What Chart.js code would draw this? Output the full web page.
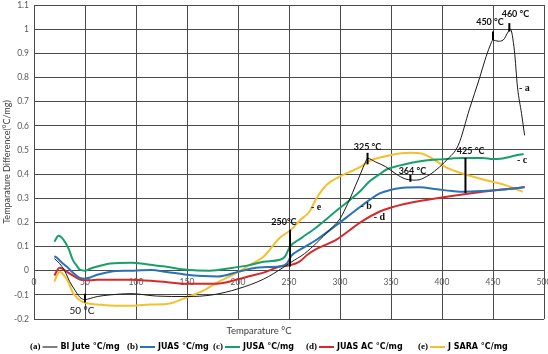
<!DOCTYPE html>
<html>
<head>
<meta charset="utf-8">
<script src="https://cdn.jsdelivr.net/npm/chart.js@4.4.1/dist/chart.umd.min.js"></script>
<style>
  html, body { margin: 0; padding: 0; background: #fff; }
  #wrap { width: 548px; height: 354px; position: relative; }
</style>
</head>
<body>
<div id="wrap"><canvas id="dtaChart" width="548" height="354"></canvas></div>
<script>
// Series names (legend)
const seriesNames = ["Bl Jute °C/mg", "JUAS °C/mg", "JUSA °C/mg", "JUAS AC °C/mg", "J SARA °C/mg"];
const seriesTags = ["(a)", "(b)", "(c)", "(d)", "(e)"];

// (a) Bl Jute
const juteTemp = [20, 25, 30, 35, 40, 45, 50, 55, 62, 75, 95, 120, 150, 175, 200, 225, 245, 252, 265, 277, 290, 300, 305, 310, 315, 320, 325, 327, 335, 345, 355, 364, 375, 385, 395, 405, 416, 427, 437, 442, 447, 450, 455, 460, 465, 467, 471, 474, 478, 481];
const juteDiff = [0.05, 0.03, 0.0, -0.045, -0.08, -0.11, -0.12, -0.115, -0.107, -0.1, -0.095, -0.105, -0.107, -0.1, -0.075, -0.035, 0.015, 0.035, 0.07, 0.115, 0.17, 0.215, 0.255, 0.3, 0.35, 0.4, 0.45, 0.465, 0.45, 0.43, 0.4, 0.38, 0.375, 0.39, 0.42, 0.46, 0.52, 0.67, 0.8, 0.87, 0.93, 0.955, 0.95, 0.955, 0.99, 1.0, 0.91, 0.76, 0.65, 0.56];

// (b) JUAS
const juasTemp = [20, 22, 27, 32, 40, 45, 50, 55, 62, 75, 95, 115, 130, 150, 165, 180, 200, 215, 230, 242, 248, 252, 262, 277, 297, 320, 339, 350, 362, 378, 395, 410, 421, 440, 457, 470, 481];
const juasDiff = [0.06, 0.055, 0.035, 0.017, -0.015, -0.03, -0.033, -0.028, -0.017, -0.004, 0.0, 0.003, -0.005, -0.017, -0.022, -0.024, -0.005, 0.01, 0.015, 0.018, 0.03, 0.06, 0.09, 0.128, 0.19, 0.265, 0.32, 0.335, 0.343, 0.345, 0.337, 0.33, 0.327, 0.33, 0.335, 0.34, 0.345];

// (c) JUSA
const jusaTemp = [20, 24, 29, 34, 38, 42, 45, 50, 55, 62, 75, 95, 114, 130, 150, 172, 195, 210, 225, 241, 246, 251, 262, 277, 297, 320, 329, 339, 346, 358, 369, 382, 395, 410, 421, 440, 450, 457, 465, 472, 480];
const jusaDiff = [0.12, 0.145, 0.128, 0.09, 0.045, 0.02, 0.004, 0.0, 0.008, 0.017, 0.03, 0.033, 0.025, 0.016, 0.004, 0.0, 0.012, 0.022, 0.037, 0.045, 0.058, 0.1, 0.135, 0.18, 0.25, 0.33, 0.37, 0.4, 0.42, 0.435, 0.446, 0.455, 0.46, 0.465, 0.467, 0.467, 0.462, 0.463, 0.47, 0.477, 0.483];

// (d) JUAS AC
const juasAcTemp = [20, 22, 25, 28, 32, 40, 45, 55, 62, 94, 123, 150, 179, 199, 212, 225, 241, 250, 261, 268, 277, 297, 320, 339, 362, 395, 427, 457, 470, 481];
const juasAcDiff = [-0.02, -0.004, 0.012, 0.008, -0.004, -0.025, -0.037, -0.04, -0.037, -0.037, -0.045, -0.054, -0.054, -0.037, -0.022, -0.008, 0.017, 0.022, 0.04, 0.066, 0.09, 0.13, 0.2, 0.245, 0.275, 0.3, 0.32, 0.335, 0.34, 0.347];

// (e) J SARA
const saraTemp = [20, 23, 25, 29, 34, 38, 43, 48, 55, 62, 80, 97, 114, 130, 150, 165, 179, 199, 212, 225, 241, 252, 261, 270, 277, 287, 300, 320, 329, 349, 369, 380, 388, 405, 424, 447, 454, 465, 479];
const saraDiff = [-0.045, -0.015, -0.004, -0.017, -0.05, -0.09, -0.115, -0.13, -0.137, -0.14, -0.145, -0.145, -0.14, -0.138, -0.11, -0.085, -0.05, -0.008, 0.025, 0.058, 0.136, 0.17, 0.21, 0.244, 0.3, 0.356, 0.39, 0.43, 0.455, 0.478, 0.488, 0.485, 0.47, 0.426, 0.397, 0.37, 0.364, 0.35, 0.327];

// Peak markers: temperature, bottom, top, label
const markerTemps = [50, 251, 327, 369, 423, 450, 466];
const markerLow = [-0.132, 0.017, 0.44, 0.368, 0.322, 0.955, 0.99];
const markerHigh = [-0.095, 0.17, 0.488, 0.397, 0.467, 0.99, 1.025];
const markerLabels = ["50 °C", "250°C", "325 °C", "364 °C", "425 °C", "450 °C", "460 °C"];

// Letter tags next to curves
const curveTags = ["- a", "- b", "- c", "- d", "- e"];

// Axis ticks
const xTicks = [0, 50, 100, 150, 200, 250, 300, 350, 400, 450, 500];
const yTicks = [-0.2, -0.1, 0, 0.1, 0.2, 0.3, 0.4, 0.5, 0.6, 0.7, 0.8, 0.9, 1, 1.1];

const colors = ["#1a1a1a", "#2a72b5", "#17a06c", "#d62a2a", "#f2c12e"];
const legendColors = ["#808080", "#2a72b5", "#17a06c", "#d62a2a", "#f2c12e"];
const widths = [1, 2, 2, 2, 2];

function toPoints(xs, ys) {
  return xs.map((x, i) => ({ x: x, y: ys[i] }));
}

const allTemps = [juteTemp, juasTemp, jusaTemp, juasAcTemp, saraTemp];
const allDiffs = [juteDiff, juasDiff, jusaDiff, juasAcDiff, saraDiff];

const datasets = seriesNames.map((name, i) => ({
  label: name,
  data: toPoints(allTemps[i], allDiffs[i]),
  borderColor: colors[i],
  borderWidth: widths[i],
  pointRadius: 0,
  fill: false,
  cubicInterpolationMode: "monotone"
}));

// Annotations: markers, their labels, and curve letters
const annotationPlugin = {
  id: "dtaAnnotations",
  afterDatasetsDraw(chart) {
    const ctx = chart.ctx;
    const xs = chart.scales.x;
    const ys = chart.scales.y;
    ctx.save();
    ctx.strokeStyle = "#000";
    ctx.lineWidth = 2;
    markerTemps.forEach((t, i) => {
      const px = xs.getPixelForValue(t);
      ctx.beginPath();
      ctx.moveTo(px, ys.getPixelForValue(markerLow[i]));
      ctx.lineTo(px, ys.getPixelForValue(markerHigh[i]));
      ctx.stroke();
    });
    // marker labels
    const labelPos = [[47, -0.165], [245, 0.2], [327, 0.513], [371, 0.413], [428, 0.496], [447, 1.03], [472, 1.063]];
    ctx.fillStyle = "#111";
    ctx.textAlign = "center";
    ctx.textBaseline = "middle";
    markerLabels.forEach((lab, i) => {
      ctx.font = i === 0 ? "10px Lato" : "bold 9px Lato";
      ctx.fillText(lab, xs.getPixelForValue(labelPos[i][0]), ys.getPixelForValue(labelPos[i][1]));
    });
    // curve letters
    const tagPos = [[475.5, 0.755], [320, 0.265], [473.5, 0.455], [333, 0.22], [271.5, 0.26]];
    ctx.font = "bold 10px 'Liberation Serif'";
    ctx.textAlign = "left";
    curveTags.forEach((tag, i) => {
      ctx.fillText(tag, xs.getPixelForValue(tagPos[i][0]), ys.getPixelForValue(tagPos[i][1]));
    });
    ctx.restore();
  },
  afterDraw(chart) {
    const ctx = chart.ctx;
    ctx.save();
    // x axis title
    ctx.fillStyle = "#404040";
    ctx.font = "9.5px Lato";
    ctx.textAlign = "center";
    ctx.textBaseline = "middle";
    ctx.fillText("Temparature °C", 259, 331);
    // legend
    const startX = [30, 127, 213, 306, 418];
    const ly = 347;
    ctx.textAlign = "left";
    seriesNames.forEach((name, i) => {
      let x = startX[i];
      ctx.fillStyle = "#000";
      ctx.font = "bold 9px 'Liberation Serif'";
      ctx.fillText(seriesTags[i], x, ly);
      x += ctx.measureText(seriesTags[i]).width + 2;
      ctx.strokeStyle = legendColors[i];
      ctx.lineWidth = 2;
      ctx.beginPath();
      ctx.moveTo(x, ly);
      ctx.lineTo(x + 15, ly);
      ctx.stroke();
      x += 18;
      ctx.font = "bold 8px 'DejaVu Sans'";
      ctx.fillText(name, x, ly);
    });
    ctx.restore();
  }
};

new Chart(document.getElementById("dtaChart"), {
  type: "line",
  data: { datasets: datasets },
  options: {
    responsive: false,
    animation: false,
    layout: { padding: { top: 5, right: 4, bottom: 35, left: 0 } },
    plugins: {
      legend: { display: false },
      tooltip: { enabled: false }
    },
    scales: {
      x: {
        type: "linear",
        position: { y: 0 },
        min: 0,
        max: 500,
        afterBuildTicks(scale) {
          scale.ticks = xTicks.map(v => ({ value: v }));
        },
        afterFit(scale) {
          scale.paddingLeft = 0;
          scale.paddingRight = 0;
        },
        grid: { color: "#4a4a4a", lineWidth: 1, drawTicks: false },
        border: { color: "#4a4a4a" },
        ticks: {
          color: "#595959",
          font: { family: "Lato", size: 8.5 },
          padding: 6,
          maxRotation: 0,
          autoSkip: false
        }
      },
      y: {
        min: -0.2,
        max: 1.1,
        afterBuildTicks(scale) {
          scale.ticks = yTicks.map(v => ({ value: v }));
        },
        afterFit(scale) {
          scale.width = 34;
          scale.paddingTop = 0;
          scale.paddingBottom = 0;
        },
        grid: { color: "#4a4a4a", lineWidth: 1, drawTicks: false },
        border: { color: "#4a4a4a" },
        title: {
          display: true,
          text: "Temparature Difference(°C/mg)",
          color: "#404040",
          font: { family: "Lato", size: 9 },
          padding: { top: 2, bottom: 0 }
        },
        ticks: {
          color: "#595959",
          font: { family: "Lato", size: 8.5 },
          padding: 5,
          callback: v => String(Math.round(v * 10) / 10)
        }
      }
    }
  },
  plugins: [annotationPlugin]
});
</script>
</body>
</html>
